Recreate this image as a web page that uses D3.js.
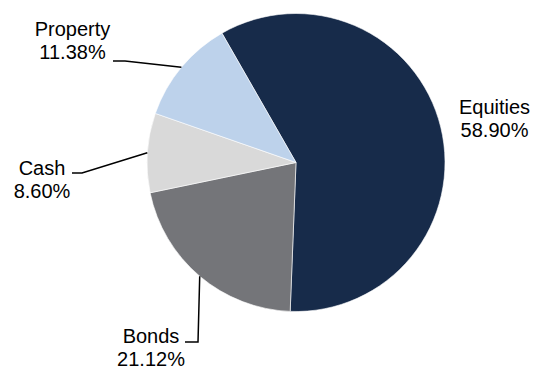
<!DOCTYPE html>
<html>
<head>
<meta charset="utf-8">
<script src="https://cdn.jsdelivr.net/npm/d3@7"></script>
<style>
  body { margin: 0; background: #fff; }
  text { font-family: Arial, "Liberation Sans", sans-serif; font-size: 20px; fill: #000; }
</style>
</head>
<body>
<div id="vis"></div>
<script>
// data
var categories = ['Equities', 'Bonds', 'Cash', 'Property'];
var shares = [58.90, 21.12, 8.60, 11.38];
var colors = ['#172B4A', '#747579', '#D9D9D9', '#BDD2EB'];

var width = 536;
var height = 369;
var center = { x: 296, y: 162.5 };
var radius = 149;
var startDeg = -29.8;

// label layout: elbow point (x, y), text centre and first baseline, line gap
var labelLayout = {
  Equities: { elbow: null, tx: 494.5, ty: 114 },
  Bonds:    { elbow: [198, 342], end: 185, tx: 151, ty: 342.5 },
  Cash:     { elbow: [82, 173], end: 72, tx: 42, ty: 175 },
  Property: { elbow: [125, 61], end: 113, tx: 72.5, ty: 36 }
};

var svg = d3.select('#vis').append('svg')
  .attr('width', width)
  .attr('height', height);

var pie = d3.pie()
  .sort(null)
  .value(function (d) { return d.value; })
  .startAngle(startDeg * Math.PI / 180)
  .endAngle((startDeg + 360) * Math.PI / 180);

var nodes = categories.map(function (c, i) {
  return { name: c, value: shares[i], color: colors[i] };
});

var arcs = pie(nodes);

var arc = d3.arc().innerRadius(0).outerRadius(radius);

var g = svg.append('g')
  .attr('transform', 'translate(' + center.x + ',' + center.y + ')');

g.selectAll('.slice')
  .data(arcs)
  .enter().append('path')
  .attr('class', 'slice')
  .attr('d', arc)
  .attr('fill', function (d) { return d.data.color; })
  .attr('stroke', '#fff')
  .attr('stroke-width', 0.6);

// leader lines from slice mid-angle on the rim
arcs.forEach(function (d) {
  var lay = labelLayout[d.data.name];
  if (lay.elbow) {
    var mid = (d.startAngle + d.endAngle) / 2;
    var px = center.x + Math.sin(mid) * radius;
    var py = center.y - Math.cos(mid) * radius;
    svg.append('polyline')
      .attr('points', [[px, py], lay.elbow, [lay.end, lay.elbow[1]]].map(function (p) { return p.join(','); }).join(' '))
      .attr('fill', 'none')
      .attr('stroke', '#000')
      .attr('stroke-width', 1.5);
  }
  var t = svg.append('text')
    .attr('text-anchor', 'middle')
    .attr('x', lay.tx)
    .attr('y', lay.ty);
  t.append('tspan').attr('x', lay.tx).text(d.data.name);
  t.append('tspan').attr('x', lay.tx).attr('dy', 23).text(d.data.value.toFixed(2) + '%');
});
</script>
</body>
</html>
